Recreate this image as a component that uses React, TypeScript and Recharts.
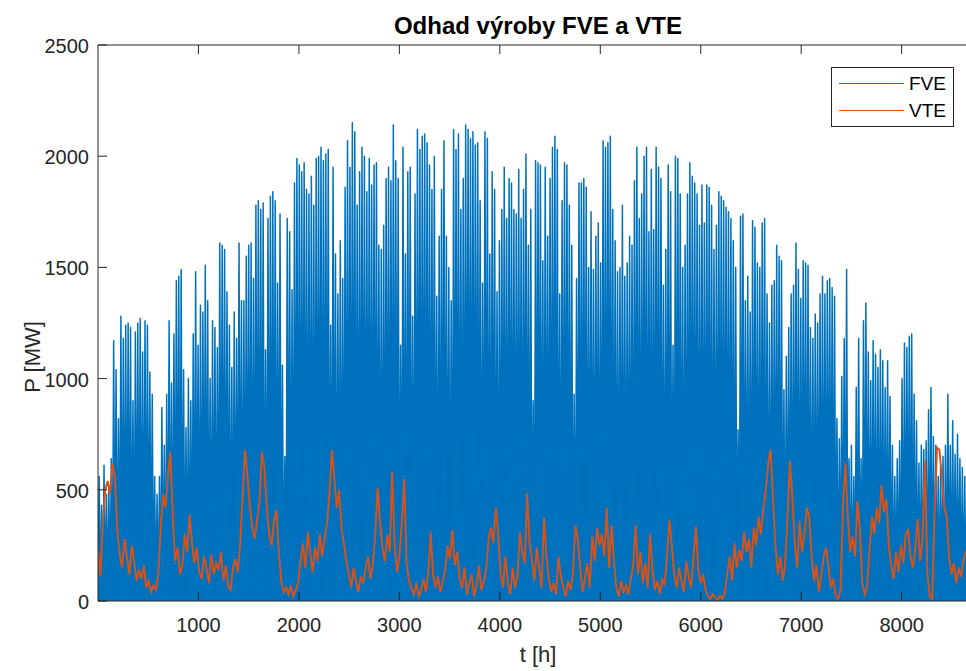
import React from 'react';
import { ComposedChart, Area, Line, XAxis, YAxis } from 'recharts';

// ---- data ----
const HOURS_PER_DAY = 24;
const X_TICKS = [1000, 2000, 3000, 4000, 5000, 6000, 7000, 8000];
const Y_TICKS = [0, 500, 1000, 1500, 2000, 2500];
const X_DOMAIN = [0, 8760];
const Y_DOMAIN = [0, 2500];

// FVE: daily peak output [MW], one value per day (365 days)
const FVE_DAILY_PEAK = [
  560, 430, 610, 480, 520, 640, 1170, 1040, 820, 1280,
  1180, 1240, 1250, 1230, 900, 1210, 1250, 1270, 1120, 1260,
  1240, 1030, 930, 560, 480, 560, 870, 700, 930, 1260,
  980, 1200, 1440, 1460, 1490, 1040, 780, 1000, 900, 1200,
  1480, 1150, 1330, 1300, 1510, 1350, 1000, 1260, 1230, 1140,
  1610, 1600, 1580, 1390, 1240, 1050, 1300, 1180, 1610, 1350,
  1350, 1550, 1600, 1610, 1450, 1780, 1800, 1760, 1790, 1130,
  1720, 1820, 1840, 1800, 1430, 1740, 1060, 650, 1720, 1660,
  1400, 1880, 1990, 1960, 1930, 1970, 1850, 1830, 1910, 1780,
  1990, 2000, 2040, 1980, 2010, 2030, 1240, 1950, 1560, 1380,
  1620, 1450, 1860, 2070, 1950, 2150, 2110, 1780, 1930, 2040,
  2000, 1840, 1990, 1870, 1960, 1970, 1600, 1580, 1690, 1900,
  1950, 1890, 2140, 1980, 1900, 1150, 2040, 1560, 1930, 1950,
  1280, 1830, 2120, 2030, 2090, 2100, 2060, 1960, 1850, 2000,
  1370, 1640, 1850, 2070, 1640, 1500, 1350, 2120, 2030, 2100,
  1760, 1900, 2140, 2120, 2080, 2110, 2050, 2060, 1800, 1430,
  2110, 2080, 1560, 1930, 1850, 1390, 1620, 1760, 1950, 1720,
  1900, 1880, 1760, 1740, 1940, 1720, 1850, 2010, 1600, 1760,
  900, 1980, 1970, 1960, 1530, 1950, 1640, 1900, 2040, 2090,
  2030, 1380, 1800, 1970, 1960, 1780, 1600, 930, 1450, 1880,
  1880, 1900, 1860, 1500, 1750, 1490, 1640, 1700, 1520, 2070,
  2040, 2060, 2090, 1760, 1620, 1480, 1500, 1780, 1460, 1520,
  1640, 1600, 1890, 2040, 1720, 1830, 2000, 2040, 1660, 1940,
  1670, 2040, 1950, 1900, 1420, 1580, 1960, 1840, 1150, 2000,
  1990, 1830, 1500, 1600, 1830, 1970, 1910, 1880, 1830, 1690,
  1870, 1700, 1870, 1860, 1780, 1580, 1690, 1840, 1820, 1800,
  1770, 1750, 1720, 1620, 1500, 770, 1730, 1740, 1350, 1460,
  1300, 1710, 1680, 1520, 1500, 1700, 1720, 1380, 1250, 1420,
  1440, 1600, 1550, 1530, 950, 1100, 1230, 1380, 1420, 1610,
  1490, 1360, 1530, 1520, 1510, 1230, 1180, 1290, 1250, 1380,
  1460, 1380, 1440, 1450, 1410, 1370, 820, 730, 1010, 1180,
  1490, 640, 700, 560, 960, 1180, 640, 1260, 1340, 1120,
  990, 1170, 1110, 1050, 1130, 1080, 960, 1080, 920, 700,
  560, 640, 720, 1000, 1160, 1140, 1190, 1200, 930, 810,
  620, 700, 680, 720, 860, 960, 740, 700, 560, 610,
  650, 700, 930, 700, 810, 660, 750, 640, 600, 560,
  520, 480, 600, 540, 450,
];

// VTE: daily wind output [MW], one value per day (365 days)
const VTE_DAILY = [
  230, 110, 350, 500, 540, 480, 620, 560, 320, 210,
  150, 280, 200, 120, 250, 180, 90, 140, 100, 160,
  60, 90, 40, 70, 50, 120, 330, 480, 420, 560,
  670, 380, 180, 240, 120, 160, 300, 220, 390, 260,
  170, 240, 130, 100, 200, 150, 80, 210, 120, 170,
  140, 220, 90, 160, 70, 50, 150, 190, 130, 260,
  480, 680, 560, 420, 330, 280, 360, 450, 670, 600,
  420, 300, 250, 360, 410, 220, 90, 40, 60, 30,
  70, 20, 50, 80, 180, 260, 150, 310, 220, 130,
  240, 180, 300, 200, 280, 350, 480, 680, 560, 420,
  500, 330, 260, 180, 120, 60, 150, 90, 40, 110,
  80, 150, 200, 100, 160, 300, 510, 350, 240, 180,
  300, 220, 580, 260, 130, 200, 350, 550, 170, 90,
  60, 30, 80, 20, 50, 100, 40, 130, 310, 120,
  60, 110, 40, 90, 140, 250, 190, 320, 160, 220,
  100, 60, 150, 30, 80, 120, 20, 70, 160, 50,
  90, 140, 280, 330, 260, 420, 300, 120, 60, 200,
  80, 30, 150, 60, 110, 310, 220, 170, 485, 260,
  180, 90, 240, 150, 60, 375, 200, 100, 40, 80,
  30, 200, 110, 60, 20, 90, 50, 120, 340, 280,
  150, 40, 100, 170, 60, 290, 180, 330, 250, 300,
  200, 420, 150, 340, 180, 60, 20, 90, 40, 70,
  30, 100, 160, 340, 120, 220, 80, 170, 60, 300,
  140, 50, 90, 30, 100, 70, 200, 365, 250, 120,
  60, 150, 90, 40, 180, 110, 60, 200, 335, 140,
  80, 120, 50, 20, 10, 30, 15, 5, 25, 10,
  40, 120, 200, 90, 260, 150, 230, 180, 310, 220,
  280, 150, 330, 250, 380, 300, 420, 500, 620, 680,
  450, 250, 120, 200, 90, 160, 380, 630, 470, 260,
  150, 360, 220, 300, 420, 380, 200, 90, 160, 40,
  120, 200, 240, 150, 60, 100, 20, 10, 50, 430,
  620, 380, 220, 290, 200, 450, 320, 80, 30, 60,
  230, 380, 300, 420, 350, 520, 400, 460, 250, 160,
  100, 220, 130, 250, 170, 300, 320, 200, 150, 240,
  370, 180, 280, 630, 120, 20, 10, 400, 690, 680,
  560, 420, 380, 200, 120, 170, 80, 150, 110, 190,
  220, 260, 180, 300, 240,
];

const SERIES = [
  { key: 'FVE', color: '#0072BD' },
  { key: 'VTE', color: '#D95319' },
];

// each day drawn as a night-to-noon spike of its peak value
const fveData = FVE_DAILY_PEAK.flatMap((p, d) => [
  { t: d * HOURS_PER_DAY, v: 0 },
  { t: d * HOURS_PER_DAY + HOURS_PER_DAY / 2, v: p },
]).concat([{ t: FVE_DAILY_PEAK.length * HOURS_PER_DAY, v: 0 }]);

const vteData = VTE_DAILY.map((v, d) => ({ t: d * HOURS_PER_DAY, v }));

const AXIS_COLOR = '#262626';
const FONT = 'Liberation Sans, Arial, Helvetica, sans-serif';
const TICK_LEN = 9;
const TICK_SIZE = 6;
const TICK_MARGIN = 2;

const BottomTick = (props: any) => {
  const { x, y, payload } = props;
  const axisY = y - TICK_SIZE - TICK_MARGIN;
  return (
    <g>
      <line x1={x} x2={x} y1={axisY} y2={axisY - TICK_LEN} stroke={AXIS_COLOR} strokeWidth={1} />
      <text x={x} y={axisY + 31} textAnchor="middle" fill={AXIS_COLOR} fontSize={20} fontFamily={FONT}>
        {payload.value}
      </text>
    </g>
  );
};

const TopTick = (props: any) => {
  const { x, y } = props;
  const axisY = y + TICK_SIZE + TICK_MARGIN;
  return <line x1={x} x2={x} y1={axisY} y2={axisY + TICK_LEN} stroke={AXIS_COLOR} strokeWidth={1} />;
};

const LeftTick = (props: any) => {
  const { x, y, payload } = props;
  const axisX = x + TICK_SIZE + TICK_MARGIN;
  return (
    <g>
      <line x1={axisX} x2={axisX + TICK_LEN} y1={y} y2={y} stroke={AXIS_COLOR} strokeWidth={1} />
      <text x={axisX - 9} y={y + 8} textAnchor="end" fill={AXIS_COLOR} fontSize={20} fontFamily={FONT}>
        {payload.value}
      </text>
    </g>
  );
};

const LegendBox = () => (
  <div
    style={{
      position: 'absolute',
      left: 831,
      top: 67,
      width: 121,
      height: 58,
      border: `1px solid ${AXIS_COLOR}`,
      background: '#fff',
      fontFamily: FONT,
      fontSize: 19,
      color: '#000',
    }}
  >
    {SERIES.map((s, i) => (
      <div key={s.key} style={{ position: 'absolute', left: 0, top: 5 + i * 27, height: 22, width: 121 }}>
        <div style={{ position: 'absolute', left: 7, top: 10, width: 65, height: 0, borderTop: `1.5px solid ${s.color}` }} />
        <div style={{ position: 'absolute', left: 77, top: 0, lineHeight: '22px' }}>{s.key}</div>
      </div>
    ))}
  </div>
);

export default function App() {
  return (
    <div
      style={{
        position: 'absolute',
        left: 0,
        top: 0,
        width: 966,
        height: 671,
        overflow: 'hidden',
        background: '#fff',
      }}
    >
      <ComposedChart width={990} height={671} margin={{ top: 25, right: 12, bottom: 30, left: 38 }}>
        <XAxis
          xAxisId="top"
          orientation="top"
          type="number"
          dataKey="t"
          domain={X_DOMAIN}
          ticks={X_TICKS}
          height={20}
          tickSize={TICK_SIZE}
          tickMargin={TICK_MARGIN}
          tickLine={false}
          tick={TopTick}
          axisLine={{ stroke: AXIS_COLOR }}
          allowDataOverflow
        />
        <XAxis
          type="number"
          dataKey="t"
          domain={X_DOMAIN}
          ticks={X_TICKS}
          height={40}
          tickSize={TICK_SIZE}
          tickMargin={TICK_MARGIN}
          tickLine={false}
          tick={BottomTick}
          axisLine={{ stroke: AXIS_COLOR }}
          allowDataOverflow
        />
        <YAxis
          type="number"
          domain={Y_DOMAIN}
          ticks={Y_TICKS}
          width={60}
          tickSize={TICK_SIZE}
          tickMargin={TICK_MARGIN}
          tickLine={false}
          tick={LeftTick}
          axisLine={{ stroke: AXIS_COLOR }}
          allowDataOverflow
        />
        <Area
          data={fveData}
          dataKey="v"
          name="FVE"
          type="linear"
          stroke="#0072BD"
          strokeWidth={1.5}
          strokeLinejoin="round"
          fill="#0072BD"
          fillOpacity={1}
          dot={false}
          activeDot={false}
          isAnimationActive={false}
        />
        <Line
          data={vteData}
          dataKey="v"
          name="VTE"
          type="linear"
          stroke="#D95319"
          strokeWidth={1.9}
          dot={false}
          activeDot={false}
          isAnimationActive={false}
        />
      </ComposedChart>
      <LegendBox />
      <svg
        width={966}
        height={671}
        style={{ position: 'absolute', left: 0, top: 0, pointerEvents: 'none' }}
      >
        <text x={538} y={34} textAnchor="middle" fontSize={24} fontWeight="bold" fontFamily={FONT} fill="#000">
          Odhad výroby FVE a VTE
        </text>
        <text x={538} y={662} textAnchor="middle" fontSize={22} fontFamily={FONT} fill={AXIS_COLOR}>
          t [h]
        </text>
        <text
          x={40}
          y={357}
          textAnchor="middle"
          fontSize={22}
          fontFamily={FONT}
          fill={AXIS_COLOR}
          transform="rotate(-90 40 357)"
        >
          P [MW]
        </text>
      </svg>
    </div>
  );
}
